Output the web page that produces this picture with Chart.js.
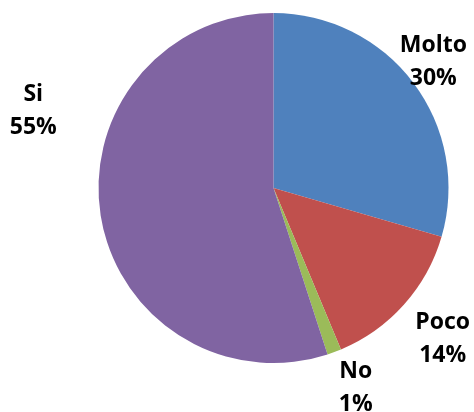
<!DOCTYPE html>
<html>
<head>
<meta charset="utf-8">
<script src="https://cdn.jsdelivr.net/npm/chart.js@4/dist/chart.umd.min.js"></script>
<style>
  html, body { margin: 0; padding: 0; background: #fff; }
  #wrap { width: 474px; height: 412px; }
</style>
</head>
<body>
<div id="wrap"><canvas id="pie" width="474" height="412"></canvas></div>
<script>
// data
var categories = ["Molto", "Poco", "No", "Si"];
var shares = [29.5, 14.2, 1.3, 55.0];
var colors = ["#4F81BD", "#C0504D", "#9BBB59", "#8064A2"];

// where each label sits: [angle shift from slice middle (deg), radius factor]
var labelPlace = [[-1.8, 1.17], [-0.3, 1.29], [-2.2, 1.225], [27.2, 1.445]];

var pieLabels = {
  id: 'pieLabels',
  afterDatasetsDraw: function (chart) {
    var ctx = chart.ctx;
    var meta = chart.getDatasetMeta(0);
    var total = shares.reduce(function (a, b) { return a + b; }, 0);
    ctx.save();
    ctx.font = "bold 23px 'Open Sans'";
    ctx.fillStyle = "#000";
    ctx.textAlign = "center";
    ctx.textBaseline = "alphabetic";
    meta.data.forEach(function (arc, i) {
      var p = arc.getProps(['x', 'y', 'startAngle', 'endAngle', 'outerRadius'], true);
      var a = (p.startAngle + p.endAngle) / 2 + labelPlace[i][0] * Math.PI / 180;
      var r = p.outerRadius * labelPlace[i][1];
      var x = p.x + Math.cos(a) * r;
      var y = p.y + Math.sin(a) * r;
      var pct = Math.round(shares[i] / total * 100) + "%";
      ctx.fillText(categories[i], x, y - 16.5 + 8.2);
      ctx.fillText(pct, x, y + 16.5 + 8.2);
    });
    ctx.restore();
  }
};

var ctxPie = document.getElementById("pie");
var pie = new Chart(ctxPie, {
  type: 'pie',
  data: {
    labels: categories,
    datasets: [{
      data: shares,
      backgroundColor: colors,
      borderWidth: 0,
      hoverOffset: 0,
      offset: 0
    }]
  },
  options: {
    responsive: false,
    animation: false,
    layout: { padding: { top: 13, bottom: 49, left: 98, right: 25 } },
    plugins: {
      legend: { display: false },
      tooltip: { enabled: false }
    }
  },
  plugins: [pieLabels]
});
</script>
</body>
</html>
